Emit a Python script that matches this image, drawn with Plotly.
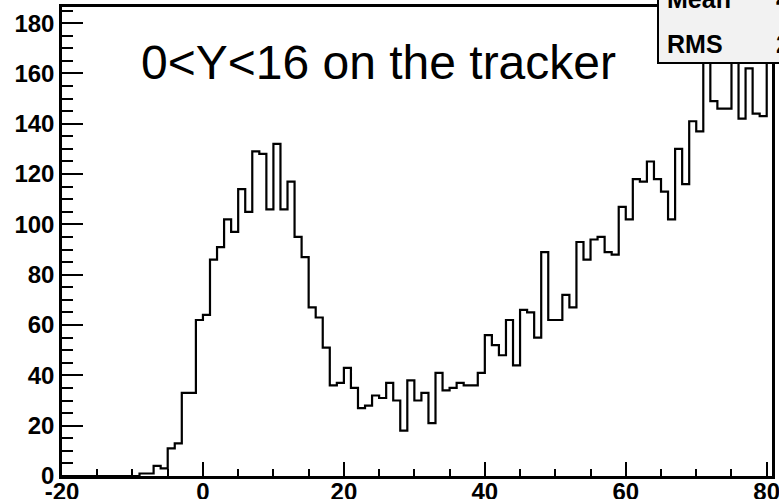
import numpy as np
import plotly.graph_objects as go

# Histogram contents: unit-width bins starting at x = -20
x_start = -20
bin_width = 1
counts = [
    0, 0, 0, 0, 0, 0, 0, 0, 0, 0, 0,            # -20 .. -10
    1, 1, 4, 3, 11, 13, 33, 33, 62,             # -9 .. -1
    64, 86, 91, 102, 97, 114, 105, 129, 128, 106,  # 0 .. 9
    132, 106, 117, 95, 87, 67, 63, 51, 36, 37,     # 10 .. 19
    43, 35, 27, 28, 32, 31, 37, 30, 18, 38,        # 20 .. 29
    30, 33, 21, 41, 34, 35, 37, 36, 36, 41,        # 30 .. 39
    56, 52, 48, 62, 44, 66, 65, 55, 89, 62,        # 40 .. 49
    62, 72, 67, 93, 86, 94, 95, 89, 88, 107,       # 50 .. 59
    102, 118, 117, 125, 118, 113, 102, 130, 116, 141,  # 60 .. 69
    137, 170, 149, 146, 146, 178, 142, 162, 144, 143,  # 70 .. 79
    172,                                           # 80
]

x_range = [-20, 80.75]
y_range = [0, 186.4]
x_ticks = [-20, 0, 20, 40, 60, 80]
y_ticks = [0, 20, 40, 60, 80, 100, 120, 140, 160, 180]
caption = "0&lt;Y&lt;16 on the tracker"

counts_arr = np.array(counts, dtype=float)
edges = x_start + bin_width * np.arange(len(counts) + 1)
centers = edges[:-1] + bin_width / 2

# statistics shown in the stats box
mean = float(np.sum(centers * counts_arr) / np.sum(counts_arr))
rms = float(np.sqrt(np.sum(counts_arr * (centers - mean) ** 2) / np.sum(counts_arr)))

# step outline: each level starts at its bin's lower edge
step_x = edges
step_y = np.append(counts_arr, counts_arr[-1])

fig = go.Figure()
fig.add_trace(go.Scatter(
    x=step_x, y=step_y, mode="lines", line_shape="hv",
    line=dict(color="black", width=2.2), hoverinfo="skip", showlegend=False,
))

W, H = 779, 499
ml, mr, mt, mb = 62, 7, 7, 23
pw, ph = W - ml - mr, H - mt - mb


def px_to_paper_x(px):
    return (px - ml) / pw


def px_to_paper_y(py):
    return (H - mb - py) / ph


tick_font = dict(family="Liberation Sans", size=24, color="black")

fig.update_layout(
    width=W, height=H,
    margin=dict(l=ml, r=mr, t=mt, b=mb, pad=0),
    paper_bgcolor="white", plot_bgcolor="white",
    showlegend=False,
    xaxis=dict(
        range=x_range, tickmode="array", tickvals=x_ticks,
        ticktext=[f"<b>{v}</b>" for v in x_ticks],
        ticks="inside", ticklen=14, tickwidth=1.5, tickcolor="black",
        minor=dict(dtick=5, tick0=-20, ticks="inside", ticklen=7,
                   tickwidth=1.5, tickcolor="black"),
        showline=True, linecolor="black", linewidth=2.5, mirror=True,
        showgrid=False, zeroline=False, tickfont=tick_font, automargin=False,
        ticklabelstandoff=-8, ticklabeloverflow="allow",
    ),
    yaxis=dict(
        range=y_range, tickmode="array", tickvals=y_ticks,
        ticktext=[f"<b>{v}</b>" for v in y_ticks],
        ticks="inside", ticklen=21, tickwidth=1.5, tickcolor="black",
        minor=dict(dtick=5, tick0=0, ticks="inside", ticklen=11,
                   tickwidth=1.5, tickcolor="black"),
        showline=True, linecolor="black", linewidth=2.5, mirror=True,
        showgrid=False, zeroline=False, tickfont=tick_font, automargin=False,
        ticklabeloverflow="allow",
    ),
)

# stats box in the upper right corner
fig.add_shape(
    type="rect", xref="paper", yref="paper",
    x0=px_to_paper_x(658), x1=px_to_paper_x(860),
    y0=px_to_paper_y(63), y1=px_to_paper_y(-20),
    fillcolor="#f2f2f2", line=dict(color="black", width=2), layer="above",
)
stats_font = dict(family="Liberation Sans", size=25, color="black")
for label, value, py in [("Mean", mean, -1), ("RMS", rms, 44)]:
    fig.add_annotation(
        xref="paper", yref="paper", x=px_to_paper_x(665), y=px_to_paper_y(py),
        xanchor="left", yanchor="middle", showarrow=False,
        text=f"<b>{label}</b>", font=stats_font,
    )
    fig.add_annotation(
        xref="paper", yref="paper", x=px_to_paper_x(841), y=px_to_paper_y(py),
        xanchor="right", yanchor="middle", showarrow=False,
        text=f"<b>{value:.2f}</b>", font=stats_font,
    )

fig.add_annotation(
    xref="paper", yref="paper", x=px_to_paper_x(139), y=px_to_paper_y(62.5),
    xanchor="left", yanchor="middle", showarrow=False,
    text=caption, font=dict(family="Liberation Sans", size=48, color="black"),
)

fig.write_html("out.html", post_script="document.body.style.margin='0';")
